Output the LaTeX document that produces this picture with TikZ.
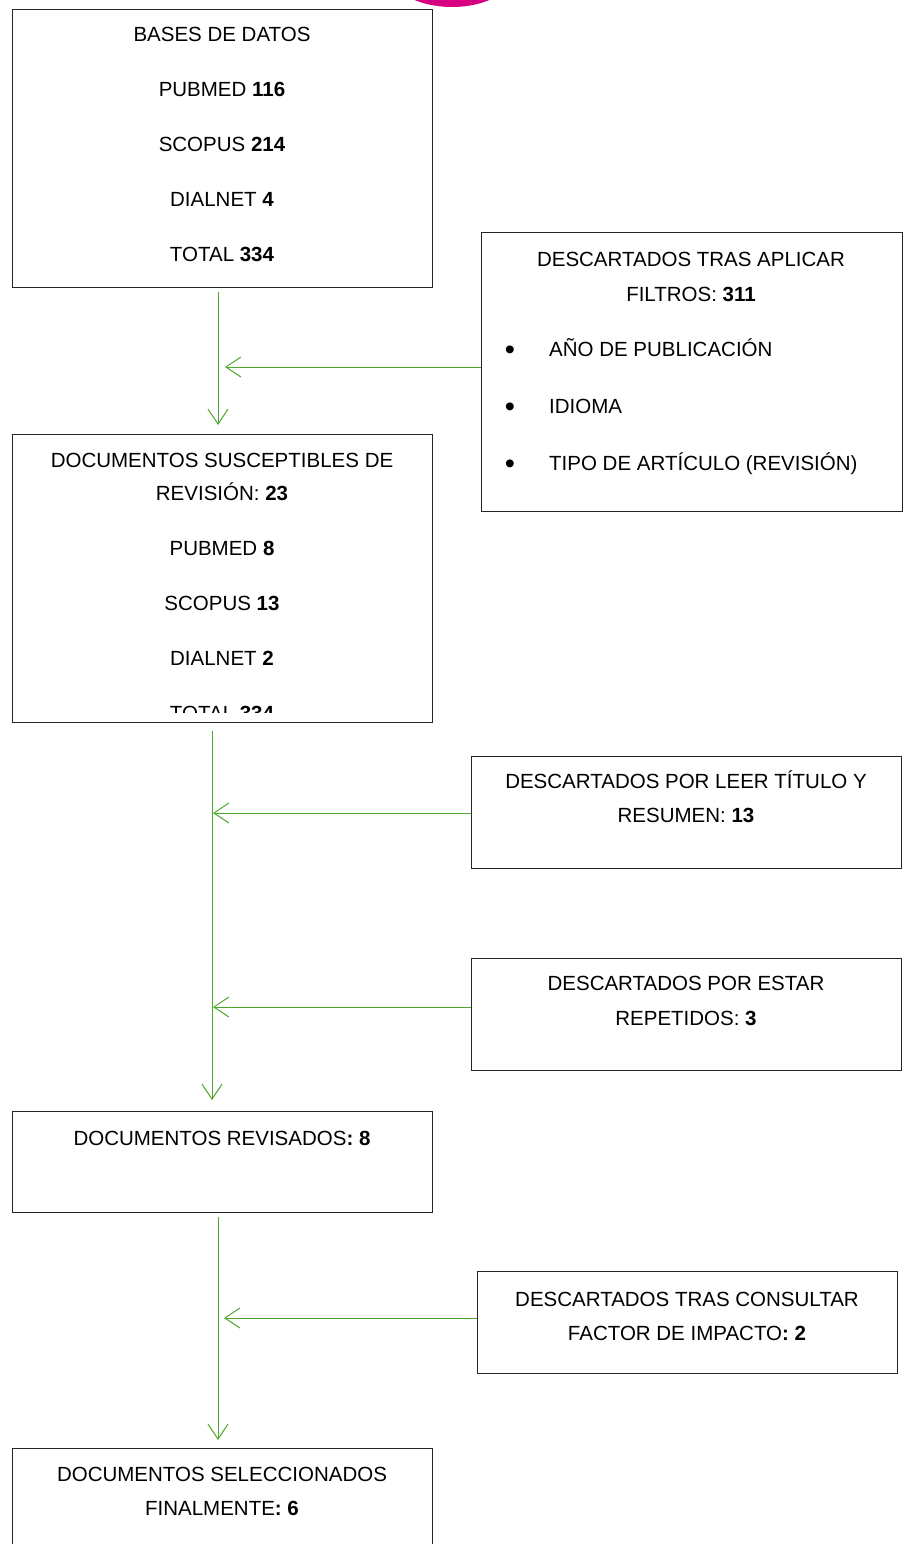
\documentclass[tikz,border=0pt]{standalone}
\usepackage{fontspec}
\setmainfont{Liberation Sans}
\usetikzlibrary{arrows.meta, positioning}
\definecolor{flowgreen}{RGB}{78,167,46}
\definecolor{logopink}{RGB}{214,0,128}

\begin{document}
\begin{tikzpicture}[x=1pt, y=-1pt,
                    box/.style= {rectangle,
                      draw=black!85,
                      line width=1.2pt,
                      inner sep=0pt,
                      anchor=north west},
                    txt/.style= {font=\fontsize{20.5}{24}\selectfont,
                      inner sep=0pt,
                      text height=14.7pt,
                      text depth=0pt},
                    item/.style= {txt, anchor=west},
                    dot/.style= {font=\fontsize{29}{32}\selectfont,
                      inner sep=0pt,
                      anchor=base},
                    flow/.style= {draw=flowgreen,
                      line width=1pt,
                      -{Straight Barb[length=15pt, width=20pt, line width=1pt]}}]

  \useasboundingbox (0,0) rectangle (906,1544);
  \clip (0,0) rectangle (906,1544);

  % logo fragment at the top edge
  \fill[logopink] (452,-30) ellipse (64pt and 37pt);

  % main column
  \node[box, minimum width=420pt, minimum height=278pt] (bases) at (12,9) {};
  \node[txt] (bases1) at (222,34) {BASES DE DATOS};
  \node[txt] (bases2) at (222,89) {PUBMED \textbf{116}};
  \node[txt] (bases3) at (222,144) {SCOPUS \textbf{214}};
  \node[txt] (bases4) at (222,199) {DIALNET \textbf{4}};
  \node[txt] (bases5) at (222,254) {TOTAL \textbf{334}};

  \node[box, minimum width=420pt, minimum height=288pt] (susceptibles) at (12,434) {};
  \node[txt] (sus1) at (222,460) {DOCUMENTOS SUSCEPTIBLES DE};
  \node[txt] (sus2) at (222,493) {REVISIÓN: \textbf{23}};
  \node[txt] (sus3) at (222,548) {PUBMED \textbf{8}};
  \node[txt] (sus4) at (222,603) {SCOPUS \textbf{13}};
  \node[txt] (sus5) at (222,658) {DIALNET \textbf{2}};
  \begin{scope}
    \clip (12,434) rectangle (432,712);
    \node[txt] (sus6) at (222,713) {TOTAL \textbf{334}};
  \end{scope}

  \node[box, minimum width=420pt, minimum height=101pt] (revisados) at (12,1111) {};
  \node[txt] (rev1) at (222,1138) {DOCUMENTOS REVISADOS\textbf{: 8}};

  \node[box, minimum width=420pt, minimum height=120pt] (seleccionados) at (12,1448) {};
  \node[txt] (sel1) at (222,1474) {DOCUMENTOS SELECCIONADOS};
  \node[txt] (sel2) at (222,1508) {FINALMENTE\textbf{: 6}};

  % discarded boxes
  \node[box, minimum width=421pt, minimum height=279pt] (filtros) at (481,232) {};
  \node[txt] (fil1) at (691,259) {DESCARTADOS TRAS APLICAR};
  \node[txt] (fil2) at (691,294) {FILTROS: \textbf{311}};
  \node[dot] (fil3) at (510,359) {\textbullet};
  \node[item] (fil4) at (549,349) {AÑO DE PUBLICACIÓN};
  \node[dot] (fil5) at (510,416) {\textbullet};
  \node[item] (fil6) at (549,406) {IDIOMA};
  \node[dot] (fil7) at (510,473) {\textbullet};
  \node[item] (fil8) at (549,463) {TIPO DE ARTÍCULO (REVISIÓN)};

  \node[box, minimum width=430pt, minimum height=112pt] (leer) at (471,756) {};
  \node[txt] (leer1) at (686,781) {DESCARTADOS POR LEER TÍTULO Y};
  \node[txt] (leer2) at (686,815) {RESUMEN: \textbf{13}};

  \node[box, minimum width=430pt, minimum height=112pt] (repetidos) at (471,958) {};
  \node[txt] (rep1) at (686,983) {DESCARTADOS POR ESTAR};
  \node[txt] (rep2) at (686,1018) {REPETIDOS: \textbf{3}};

  \node[box, minimum width=420pt, minimum height=102pt] (impacto) at (477,1271) {};
  \node[txt] (imp1) at (687,1299) {DESCARTADOS TRAS CONSULTAR};
  \node[txt] (imp2) at (687,1333) {FACTOR DE IMPACTO\textbf{: 2}};

  % connectors
  \coordinate (c1) at (218,292);
  \coordinate (c2) at (218,425);
  \coordinate (c3) at (212,731);
  \coordinate (c4) at (212,1100);
  \coordinate (c5) at (218,1217);
  \coordinate (c6) at (218,1440);
  \coordinate (m1) at (225,367);
  \coordinate (m2) at (213,813);
  \coordinate (m3) at (213,1007);
  \coordinate (m4) at (224,1318);

  \draw[flow] (c1) -- (c2);
  \draw[flow] (c3) -- (c4);
  \draw[flow] (c5) -- (c6);
  \draw[flow] (filtros.west |- m1) -- (m1);
  \draw[flow] (leer.west |- m2) -- (m2);
  \draw[flow] (repetidos.west |- m3) -- (m3);
  \draw[flow] (impacto.west |- m4) -- (m4);
\end{tikzpicture}
\end{document}
